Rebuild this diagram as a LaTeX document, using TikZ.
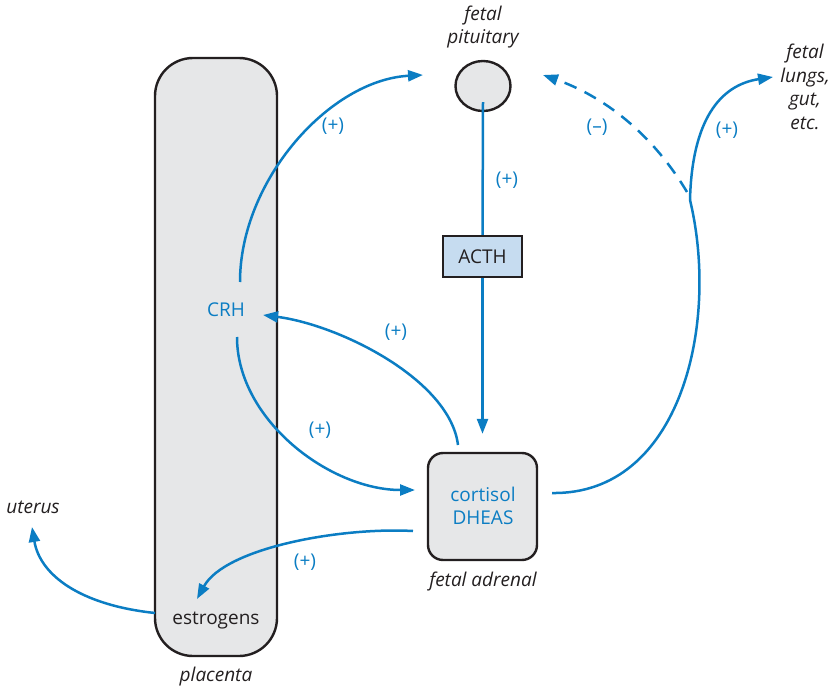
\documentclass[tikz,border=0pt]{standalone}
\usepackage{fontspec}
\setmainfont{Open Sans}
\usetikzlibrary{arrows.meta,shapes.geometric}
\definecolor{hblue}{RGB}{11,125,195}
\definecolor{hgray}{RGB}{230,231,232}
\definecolor{hlblue}{RGB}{198,220,240}
\definecolor{hdark}{RGB}{35,31,32}
\tikzset{
  organ/.style={draw=hdark,line width=2.4pt,fill=hgray,inner sep=0pt},
  conn/.style={draw=hblue,line width=2.5pt,-{Triangle[length=15pt,width=11pt]}},
  plainconn/.style={draw=hblue,line width=2.5pt},
  sign/.style={text=hblue,font=\fontsize{19}{20}\selectfont},
  lbl/.style={text=hdark,font=\fontsize{19}{23.5}\selectfont\itshape,align=center},
  btxt/.style={text=hblue,font=\fontsize{19}{23}\selectfont,align=center},
  dtxt/.style={text=hdark,font=\fontsize{19}{23}\selectfont,align=center}
}
\begin{document}
\begin{tikzpicture}[x=1pt,y=-1pt]
\useasboundingbox (0,0) rectangle (833,690);
% shapes
\node[organ,rounded corners=38pt,minimum width=122pt,minimum height=598pt] (plac) at (216,357) {};
\node[organ,ellipse,minimum width=55pt,minimum height=50pt] (pit) at (483,86) {};
\node[organ,fill=hlblue,minimum width=79pt,minimum height=41pt] (acth) at (482.5,256.5) {};
\node[dtxt] at (acth) {ACTH};
\node[organ,rounded corners=15pt,minimum width=109pt,minimum height=107pt] (adr) at (482.5,506.5) {};
\node[btxt] (cort) at (483,506) {cortisol\\DHEAS};
% texts
\node[btxt] (crh) at (226,310) {CRH};
\node[dtxt] (estr) at (216,621) {estrogens};
\node[lbl] (placl) at (216,677) {placenta};
\node[lbl] (adrl) at (483,582) {fetal adrenal};
\node[lbl] (pitl) at (483,27) {fetal\\pituitary};
\node[lbl] (lungs) at (805,87) {fetal\\lungs,\\gut,\\etc.};
\node[lbl] (uter) at (33,507) {uterus};
% coordinates
\coordinate (crhT) at (240,282);
\coordinate (crhB) at (237,337);
\coordinate (crhIn) at (263,315);
\coordinate (pitIn) at (423,75);
\coordinate (pitInR) at (543,75);
\coordinate (adrIn) at (415,490);
\coordinate (adrT) at (458,445);
\coordinate (adrR) at (552,493);
\coordinate (adrL) at (413,531);
\coordinate (estIn) at (197,599);
\coordinate (placL) at (155,613);
\coordinate (uterIn) at (32,527);
\coordinate (fork) at (690,200);
\coordinate (forkD) at (687,192);
\coordinate (lungIn) at (773,77);
% connectors
\draw[plainconn] ([yshift=10pt]pit.south) -- (acth.north);
\draw[conn] (acth.south) -- ([yshift=18pt]adr.north);
\draw[conn] (crhT) .. controls (240,180) and (330,80) .. (pitIn);
\draw[conn] (adrT) .. controls (450,380) and (340,325) .. (crhIn);
\draw[conn] (crhB) .. controls (237,420) and (330,490) .. (adrIn);
\draw[conn] (adrL) .. controls (340,527) and (225,548) .. (estIn);
\draw[conn] (placL) .. controls (80,605) and (40,575) .. (uterIn);
\draw[plainconn] (adrR) .. controls (680,495) and (720,325) .. (fork);
\draw[conn] (fork) .. controls (692,120) and (720,85) .. (lungIn);
\draw[conn,dash pattern=on 13pt off 9pt] (forkD) .. controls (650,130) and (600,95) .. (pitInR);
% signs
\node[sign] at (507,180) {(+)};
\node[sign] at (333,126) {(+)};
\node[sign] at (396,332) {(+)};
\node[sign] at (320,430) {(+)};
\node[sign] at (305,562) {(+)};
\node[sign] at (597,127) {(–)};
\node[sign] at (727,130) {(+)};
\end{tikzpicture}
\end{document}
